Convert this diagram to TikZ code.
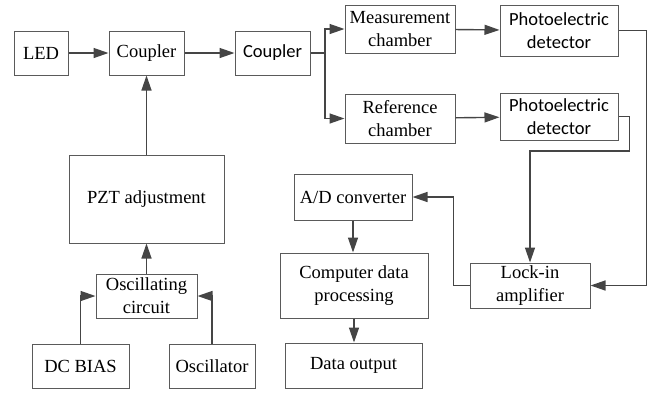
\documentclass[tikz,border=0pt]{standalone}
\usepackage{fontspec}
\setmainfont{Liberation Serif}
\newfontfamily\calib{Carlito}
\usetikzlibrary{arrows.meta}
\definecolor{lc}{HTML}{454545}
\definecolor{bc}{HTML}{5A5A5A}
\begin{document}
\begin{tikzpicture}[x=1pt,y=-1pt,
  box/.style={draw=bc,line width=1pt,inner sep=0pt,align=center,
    font=\fontsize{18.5}{23}\selectfont},
  sbox/.style={box,font=\calib\fontsize{18.5}{23}\selectfont},
  arr/.style={draw=lc,line width=1.4pt,-{Triangle[length=15pt,width=10pt]}},
  ln/.style={draw=lc,line width=1.4pt}]
\useasboundingbox (0,0) rectangle (651,392);
\node[box,minimum width=54pt,minimum height=44pt] (led) at (41,53) {LED};
\node[box,minimum width=75pt,minimum height=44pt] (c1) at (146.5,53) {Coupler};
\node[sbox,minimum width=75pt,minimum height=44pt] (c2) at (272.5,53) {Coupler};
\node[box,minimum width=110pt,minimum height=48pt] (meas) at (400,29) {Measurement\\chamber};
\node[sbox,minimum width=118pt,minimum height=51pt] (det1) at (559,30.5) {Photoelectric\\detector};
\node[box,minimum width=110pt,minimum height=49pt] (ref) at (400,118.5) {Reference\\chamber};
\node[sbox,minimum width=118pt,minimum height=47pt] (det2) at (559,116.5) {Photoelectric\\detector};
\node[box,minimum width=155pt,minimum height=88pt] (pzt) at (146.5,199) {PZT adjustment};
\node[box,minimum width=101pt,minimum height=44pt] (osc) at (146.5,296) {Oscillating\\circuit};
\node[box,minimum width=97pt,minimum height=44pt] (dc) at (80.5,366) {DC BIAS};
\node[box,minimum width=86pt,minimum height=44pt] (oscr) at (212,366) {Oscillator};
\node[box,minimum width=118pt,minimum height=46pt] (ad) at (353,197) {A/D converter};
\node[box,minimum width=148pt,minimum height=65pt] (comp) at (354,285.5) {Computer data\\processing};
\node[box,minimum width=137pt,minimum height=45pt] (dout) at (353.5,365.5) {Data output};
\node[box,minimum width=120pt,minimum height=45pt] (lock) at (530,285.5) {Lock-in\\amplifier};
\coordinate (bus) at (325,53);
\coordinate (kink) at (lock.north |- 0,151);
\draw[arr] (led) -- (c1);
\draw[arr] (c1) -- (c2);
\draw[ln] (c2.east) -- (bus);
\draw[arr] (bus) |- (meas.west);
\draw[arr] (bus) |- (ref.west);
\draw[arr] (meas) -- (det1);
\draw[arr] (ref) -- (det2);
\draw[arr] (det1.east) -- ++(28,0) |- (lock.east);
\draw[arr] (det2.east) -- ++(11,0) |- (kink) -- (lock.north);
\draw[arr] (lock.west) -- ++(-16,0) |- (ad.east);
\draw[arr] (ad.south) -- (ad.south |- comp.north);
\draw[arr] (comp.south) -- (comp.south |- dout.north);
\draw[arr] (pzt.north) -- (c1.south);
\draw[arr] (osc.north) -- (pzt.south);
\draw[arr] (dc.north) |- (osc.west);
\draw[arr] (oscr.north) |- (osc.east);
\end{tikzpicture}
\end{document}
